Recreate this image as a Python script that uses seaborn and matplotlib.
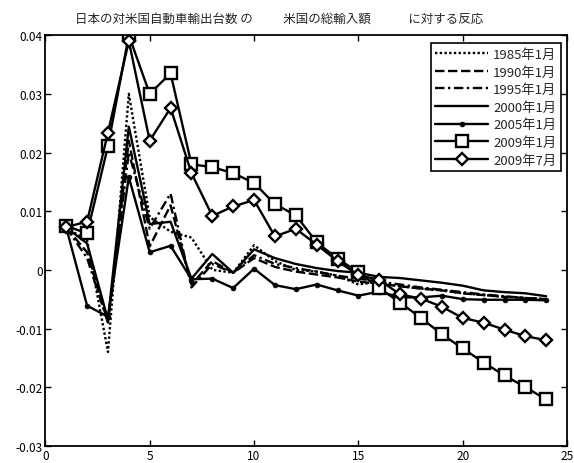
import matplotlib
matplotlib.use("Agg")
import matplotlib.pyplot as plt
import numpy as np
import pandas as pd
import seaborn as sns

# ============================================================
# DATA
# ============================================================
months = list(range(1, 25))

s1985_01 = [0.0072, 0.0050, -0.0140, 0.0300, 0.0090, 0.0065, 0.0055, 0.0000,
            -0.0005, 0.0042, 0.0015, 0.0000, -0.0003, -0.0010, -0.0025, -0.0020,
            -0.0028, -0.0032, -0.0035, -0.0040, -0.0043, -0.0046, -0.0048, -0.0050]
s1990_01 = [0.0072, 0.0030, -0.0090, 0.0220, 0.0040, 0.0110, -0.0025, 0.0015,
            -0.0005, 0.0020, 0.0005, -0.0003, -0.0008, -0.0013, -0.0020, -0.0024,
            -0.0028, -0.0032, -0.0035, -0.0040, -0.0043, -0.0046, -0.0048, -0.0050]
s1995_01 = [0.0072, 0.0020, -0.0090, 0.0200, 0.0070, 0.0130, -0.0030, 0.0010,
            -0.0005, 0.0025, 0.0010, 0.0003, -0.0003, -0.0010, -0.0015, -0.0020,
            -0.0025, -0.0030, -0.0034, -0.0038, -0.0042, -0.0045, -0.0048, -0.0050]
s2000_01 = [0.0072, 0.0045, -0.0085, 0.0244, 0.0078, 0.0082, -0.0015, 0.0027,
            -0.0005, 0.0035, 0.0020, 0.0010, 0.0003, -0.0002, -0.0005, -0.0012,
            -0.0014, -0.0018, -0.0022, -0.0027, -0.0035, -0.0038, -0.0040, -0.0045]
s2005_01 = [0.0072, -0.0061, -0.0080, 0.0158, 0.0030, 0.0041, -0.0016, -0.0015,
            -0.0031, 0.0002, -0.0026, -0.0033, -0.0025, -0.0035, -0.0044, -0.0037,
            -0.0047, -0.0047, -0.0044, -0.0050, -0.0051, -0.0051, -0.0051, -0.0052]
s2009_01 = [0.0075, 0.0062, 0.0211, 0.0400, 0.0300, 0.0335, 0.0180, 0.0175,
            0.0165, 0.0148, 0.0112, 0.0093, 0.0047, 0.0019, -0.0004, -0.0031,
            -0.0056, -0.0082, -0.0110, -0.0134, -0.0158, -0.0180, -0.0200, -0.0221]
s2009_07 = [0.0073, 0.0082, 0.0234, 0.0390, 0.0220, 0.0276, 0.0165, 0.0092,
            0.0108, 0.0119, 0.0057, 0.0070, 0.0043, 0.0015, -0.0009, -0.0017,
            -0.0042, -0.0049, -0.0063, -0.0082, -0.0090, -0.0102, -0.0113, -0.0120]

labels = ["1985年1月", "1990年1月", "1995年1月", "2000年1月",
          "2005年1月", "2009年1月", "2009年7月"]
series = [s1985_01, s1990_01, s1995_01, s2000_01, s2005_01, s2009_01, s2009_07]

x_ticks = [0, 5, 10, 15, 20, 25]
y_ticks = [-0.03, -0.02, -0.01, 0, 0.01, 0.02, 0.03, 0.04]
y_tick_labels = ["-0.03", "-0.02", "-0.01", "0", "0.01", "0.02", "0.03", "0.04"]

title = "日本の対米国自動車輸出台数 の　　  米国の総輸入額　　　に対する反応"

# ============================================================
# STYLE
# ============================================================
sns.set_theme(style="ticks")
plt.rcParams["font.family"] = ["Noto Sans CJK JP", "DejaVu Sans"]
plt.rcParams["axes.unicode_minus"] = False

open_mk = dict(markerfacecolor="white", markeredgecolor="black", markeredgewidth=1.7)
styles = [
    dict(linestyle=(0, (1, 1)), marker=None),
    dict(linestyle=(0, (4, 1.5)), marker=None),
    dict(linestyle=(0, (4, 1.5, 1, 1.5)), marker=None),
    dict(linestyle="-", marker=None),
    dict(linestyle="-", marker="o", markersize=3.5, markerfacecolor="black",
         markeredgecolor="black", markeredgewidth=0.5),
    dict(linestyle="-", marker="s", markersize=8.5, **open_mk),
    dict(linestyle="-", marker="D", markersize=6.5, **open_mk),
]

# ============================================================
# PLOT
# ============================================================
fig = plt.figure(figsize=(5.74, 4.64), dpi=100)
ax = fig.add_axes([0.079, 0.037, 0.909, 0.885])

for lab, vals, st in zip(labels, series, styles):
    df = pd.DataFrame({"month": months, "value": vals})
    sns.lineplot(data=df, x="month", y="value", ax=ax, color="black",
                 linewidth=1.7, label=lab, **st)

ax.set_xlim(0, 25)
ax.set_ylim(-0.03, 0.04)
ax.set_xticks(x_ticks)
ax.set_yticks(y_ticks)
ax.set_yticklabels(y_tick_labels)
ax.set_xlabel("")
ax.set_ylabel("")
ax.tick_params(direction="in", top=True, right=True, labelsize=8.5,
               length=4, width=1, pad=2, colors="black")
for sp in ax.spines.values():
    sp.set_linewidth(1.3)
    sp.set_color("black")

fig.text(75 / 574, 1 - 19 / 464, title, fontsize=9, ha="left", va="center")

leg = ax.legend(loc="upper right", fontsize=9.5, frameon=True, fancybox=False,
                handlelength=4.0, borderpad=0.35, labelspacing=0.35,
                handletextpad=0.4, borderaxespad=0.3,
                bbox_to_anchor=(0.996, 0.99))
leg.get_frame().set_edgecolor("black")
leg.get_frame().set_linewidth(1.2)
leg.get_frame().set_alpha(1)

fig.savefig("out.png", dpi=100)
